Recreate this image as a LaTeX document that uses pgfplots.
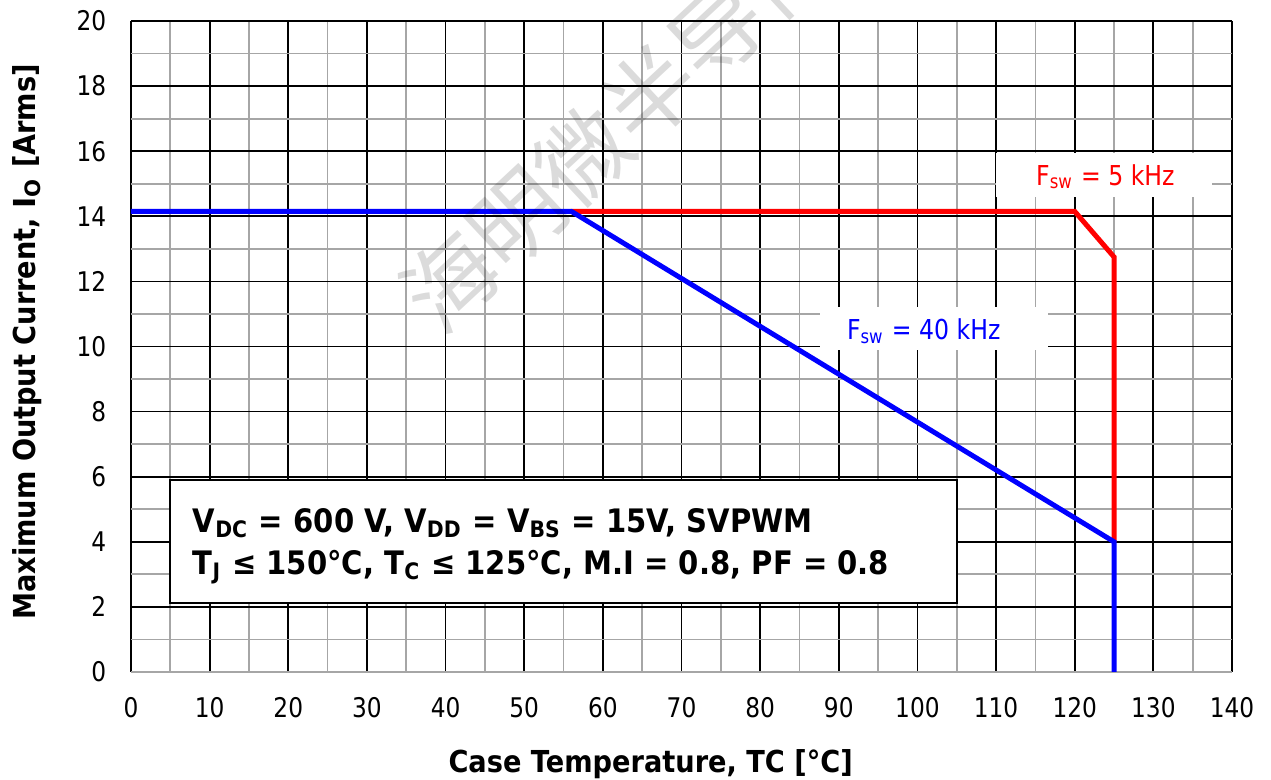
\documentclass[border=0pt]{standalone}
\usepackage{fontspec}
\usepackage{pgfplots}
\pgfplotsset{compat=1.18}
\setmainfont{DejaVu Sans}
\newfontfamily\tickfont[FakeStretch=0.86]{DejaVu Sans}
\newfontfamily\labfont[FakeStretch=0.9]{DejaVu Sans}
\newfontfamily\boxfont[FakeStretch=0.9]{DejaVu Sans}
\newfontfamily\cjk{Noto Sans CJK SC}

\begin{document}
\begin{tikzpicture}
\begin{axis}[
  width=11.01cm, height=6.51cm, scale only axis,
  xmin=0, xmax=140, ymin=0, ymax=20,
  xtick={0,10,...,140}, ytick={0,2,...,20},
  minor xtick={5,15,...,135}, minor ytick={1,3,...,19},
  grid=both,
  major grid style={black, line width=0.5pt},
  minor grid style={black!35, line width=0.5pt},
  major tick length=0pt, minor tick length=0pt,
  axis line style={draw=none},
  tick label style={font=\tickfont\fontsize{7.7}{9}\selectfont,
    /pgf/number format/assume math mode=true},
  yticklabel style={anchor=east, inner sep=0pt, xshift=-0.24cm},
  xticklabel style={anchor=north, inner sep=0pt, yshift=-0.25cm},
  clip=false]
% white patches behind the curve labels
\fill[white] (axis cs:110,14.6) rectangle (axis cs:137.5,15.95);
\fill[white] (axis cs:87.6,9.9) rectangle (axis cs:116.6,11.2);
\draw[black!35, line width=0.6pt] (axis cs:0,0) -- (axis cs:140,0);
% 5 kHz
\addplot[red, line width=1.42pt] coordinates {(56,14.15)(120,14.15)(125,12.75)(125,4)};
% 40 kHz
\addplot[blue, line width=1.42pt] coordinates {(0,14.15)(56,14.15)(125,4)(125,0)};
\draw[fill=white, line width=0.6pt] (axis cs:4.96,2.12) rectangle (axis cs:105,5.9);
\node[anchor=base west, inner sep=0pt, font=\boxfont\bfseries\fontsize{9.2}{11}\selectfont]
  at (axis cs:7.76,4.30) {V\textsubscript{DC} = 600 V, V\textsubscript{DD} = V\textsubscript{BS} = 15V, SVPWM};
\node[anchor=base west, inner sep=0pt, font=\boxfont\bfseries\fontsize{9.2}{11}\selectfont]
  at (axis cs:7.76,3.01) {T\textsubscript{J} ≤ 150°C, T\textsubscript{C} ≤ 125°C, M.I = 0.8, PF = 0.8};
\node[anchor=base, inner sep=0pt, red, font=\tickfont\fontsize{7.8}{9}\selectfont]
  at (axis cs:123.9,14.96) {F\textsubscript{sw} = 5 kHz};
\node[anchor=base, inner sep=0pt, blue, font=\tickfont\fontsize{7.8}{9}\selectfont]
  at (axis cs:100.8,10.2) {F\textsubscript{sw} = 40 kHz};
% axis labels
\node[anchor=base, inner sep=0pt, font=\labfont\bfseries\fontsize{8.6}{10}\selectfont]
  at ([yshift=-1.01cm]rel axis cs:0.472,0) {Case Temperature, TC [°C]};
\node[rotate=90, anchor=base, inner sep=0pt, font=\labfont\bfseries\fontsize{8.6}{10}\selectfont]
  at ([xshift=-0.95cm]rel axis cs:0,0.507) {Maximum Output Current, $\mathbf{I_O}$ [Arms]};
% watermark
\node[overlay, rotate=43, opacity=0.14, font=\cjk\fontsize{26}{30}\selectfont]
  at (axis cs:61.8,16.8) {海明微半导体};
\end{axis}
\pgfresetboundingbox
\path[use as bounding box] (-1.31,-1.08) rectangle (11.40,6.72);
\end{tikzpicture}
\end{document}
